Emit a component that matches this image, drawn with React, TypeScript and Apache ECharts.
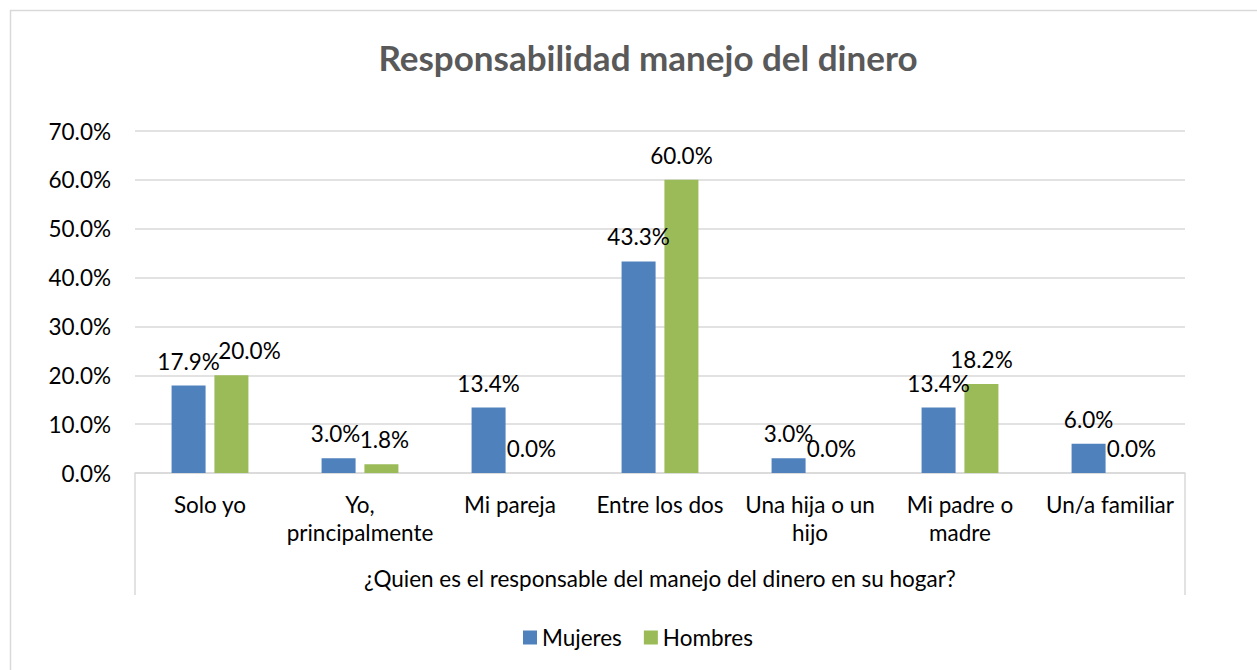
import React, { useEffect, useRef } from "react";
import * as echarts from "echarts";

const categories = [
  "Solo yo",
  "Yo,\nprincipalmente",
  "Mi pareja",
  "Entre los dos",
  "Una hija o un\nhijo",
  "Mi padre o\nmadre",
  "Un/a familiar",
];
const mujeres = [17.9, 3.0, 13.4, 43.3, 3.0, 13.4, 6.0];
const hombres = [20.0, 1.8, 0.0, 60.0, 0.0, 18.2, 0.0];
const yTicks = [0, 10, 20, 30, 40, 50, 60, 70];

const FONT = "Lato, 'Noto Sans', sans-serif";
const FS = 22.5;
const GRID_LEFT = 135;
const GRID_RIGHT_X = 1185;
const GRID_BOTTOM_Y = 473;

export default function App() {
  const ref = useRef<HTMLDivElement>(null);
  useEffect(() => {
    if (!ref.current) return;
    const chart = echarts.init(ref.current, null, { renderer: "svg" });
    const labelBase = {
      show: true,
      position: "top",
      distance: 13,
      fontSize: FS,
      color: "#000",
      fontFamily: FONT,
      formatter: (p: any) => `${Number(p.value).toFixed(1)}%`,
    };
    chart.setOption({
      animation: false,
      backgroundColor: "#fff",
      textStyle: { fontFamily: FONT },
      title: {
        text: "Responsabilidad manejo del dinero",
        left: 643,
        textAlign: "center",
        top: 34,
        textStyle: { fontSize: 35, fontWeight: "bold", color: "#595959", fontFamily: FONT },
      },
      legend: {
        top: 621,
        left: 518,
        icon: "rect",
        itemWidth: 14,
        itemHeight: 14,
        itemGap: 22,
        textStyle: { fontSize: FS, color: "#000", fontFamily: FONT },
        data: ["Mujeres", "Hombres"],
      },
      grid: { left: GRID_LEFT, right: 1257 - GRID_RIGHT_X, top: 131, bottom: 670 - GRID_BOTTOM_Y },
      xAxis: {
        type: "category",
        data: categories,
        name: "¿Quien es el responsable del manejo del dinero en su hogar?",
        nameLocation: "middle",
        nameGap: 94,
        nameTextStyle: { fontSize: FS, color: "#000", fontFamily: FONT },
        axisLine: { lineStyle: { color: "#d9d9d9", width: 1.5 } },
        axisTick: { show: false },
        axisLabel: { fontSize: FS, color: "#000", margin: 17, lineHeight: 28, fontFamily: FONT, interval: 0 },
      },
      yAxis: {
        type: "value",
        min: yTicks[0],
        max: yTicks[yTicks.length - 1],
        interval: 10,
        axisLine: { show: false },
        axisTick: { show: false },
        axisLabel: {
          fontSize: FS,
          color: "#000",
          margin: 24,
          fontFamily: FONT,
          formatter: (v: number) => `${v.toFixed(1)}%`,
        },
        splitLine: { lineStyle: { color: "#d9d9d9", width: 1.5 } },
      },
      series: [
        {
          name: "Mujeres",
          type: "bar",
          data: mujeres.map((v, i) =>
            i === 1 ? { value: v, label: { offset: [-3, 0] } } : v
          ),
          barWidth: 34,
          barGap: "26%",
          itemStyle: { color: "#4F81BD" },
          label: labelBase,
        },
        {
          name: "Hombres",
          type: "bar",
          data: hombres.map((v, i) =>
            i === 0
              ? { value: v, label: { offset: [18, 0] } }
              : i === 1
              ? { value: v, label: { offset: [3, 0] } }
              : v
          ),
          barWidth: 34,
          barGap: "26%",
          itemStyle: { color: "#9BBB59" },
          label: labelBase,
        },
      ],
      graphic: [
        {
          type: "rect",
          shape: { x: 10.5, y: 10.5, width: 1300, height: 700 },
          style: { fill: "none", stroke: "#d9d9d9", lineWidth: 1.5 },
          silent: true,
        },
        {
          type: "line",
          shape: { x1: GRID_LEFT, y1: GRID_BOTTOM_Y, x2: GRID_LEFT, y2: 595 },
          style: { stroke: "#d9d9d9", lineWidth: 1.5 },
          silent: true,
        },
        {
          type: "line",
          shape: { x1: GRID_RIGHT_X, y1: GRID_BOTTOM_Y, x2: GRID_RIGHT_X, y2: 595 },
          style: { stroke: "#d9d9d9", lineWidth: 1.5 },
          silent: true,
        },
      ],
    });
    return () => chart.dispose();
  }, []);
  return (
    <div
      ref={ref}
      style={{ position: "absolute", left: 0, top: 0, width: 1257, height: 670 }}
    />
  );
}
